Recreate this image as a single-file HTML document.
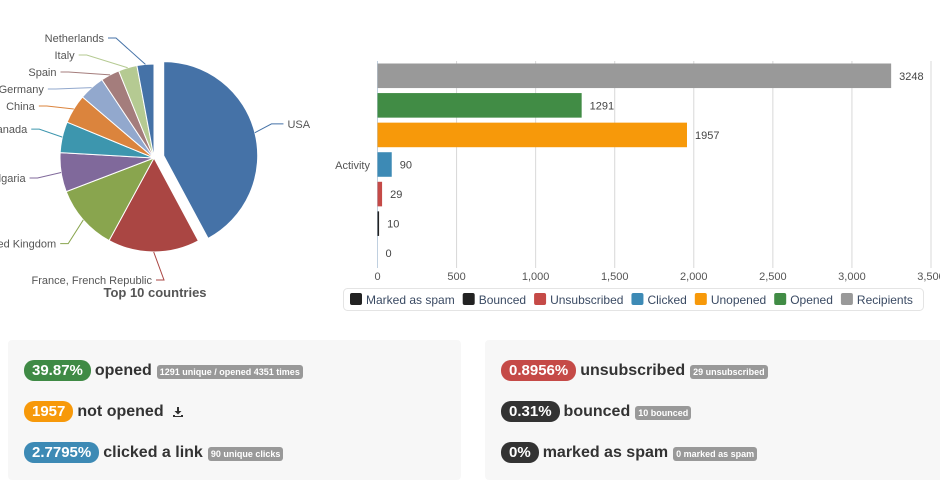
<!DOCTYPE html>
<html><head><meta charset="utf-8"><style>
body{margin:0;width:940px;height:487px;overflow:hidden;background:#fff;font-family:"Liberation Sans",sans-serif;position:relative}
svg text{font-family:"Liberation Sans",sans-serif}
.card{position:absolute;top:340px;height:140px;background:#f7f7f7;border-radius:4px}
.row{position:absolute;left:16px;display:flex;align-items:center;font-weight:bold;font-size:16px;color:#333;white-space:nowrap}
.pill{color:#fff;border-radius:10px;padding:2px 8px;font-size:15px;margin-right:4px;line-height:17px}
.tag{background:#999;color:#fff;font-size:9px;border-radius:3px;padding:2px 3px;margin-left:5px;margin-top:3px}
</style></head><body>
<svg id="pie" width="330" height="300" style="position:absolute;left:0;top:0"></svg>
<svg id="bar" width="610" height="320" style="position:absolute;left:330px;top:0"></svg>

<div class="card" style="left:8px;width:453px">
 <div class="row" style="top:20px"><span class="pill" style="background:#3f8a45">39.87%</span>opened<span class="tag">1291 unique / opened 4351 times</span></div>
 <div class="row" style="top:61px"><span class="pill" style="background:#f7990a">1957</span>not opened <svg width="12" height="12" style="margin-left:8px" viewBox="0 0 12 12"><path d="M5 1h2v4h2.5L6 8.5 2.5 5H5z M1 9h2v1h6V9h2v2H1z" fill="#333"/></svg></div>
 <div class="row" style="top:102px"><span class="pill" style="background:#3d8ab5">2.7795%</span>clicked a link<span class="tag">90 unique clicks</span></div>
</div>
<div class="card" style="left:485px;width:460px">
 <div class="row" style="top:20px"><span class="pill" style="background:#c54a47">0.8956%</span>unsubscribed<span class="tag">29 unsubscribed</span></div>
 <div class="row" style="top:61px"><span class="pill" style="background:#333">0.31%</span>bounced<span class="tag">10 bounced</span></div>
 <div class="row" style="top:102px"><span class="pill" style="background:#333">0%</span>marked as spam<span class="tag">0 marked as spam</span></div>
</div>
<script>
const NS="http://www.w3.org/2000/svg";
function mk(p,t,a){const e=document.createElementNS(NS,t);for(const k in a)e.setAttribute(k,a[k]);p.appendChild(e);return e;}
// ---- pie data
const countries=["USA","France, French Republic","United Kingdom","Bulgaria","Canada","China","Germany","Spain","Italy","Netherlands"];
const countryValues=[420,157,112,67,53,50,44,32,32,29];
const pieColors=["#4572a7","#aa4643","#89a54e","#80699b","#3d96ae","#db843d","#92a8cd","#a47d7c","#b5ca92","#4572a7"];
const pie=document.getElementById('pie');
const cx=154,cy=158,R=94,LR=130,TOPY=38,BOTY=280;
const tot=countryValues.reduce((a,b)=>a+b,0);
let a0=0;const labs=[];
countryValues.forEach((v,i)=>{
 const sw=v/tot*2*Math.PI,a1=a0+sw,mid=a0+sw/2;
 const off=i===0?10:0,ox=cx+off*Math.sin(mid),oy=cy-off*Math.cos(mid);
 const p=(a,r)=>[ox+r*Math.sin(a),oy-r*Math.cos(a)];
 const s=p(a0,R),e=p(a1,R);
 const sl=mk(pie,'path',{d:`M${ox},${oy}L${s[0]},${s[1]}A${R},${R} 0 ${sw>Math.PI?1:0} 1 ${e[0]},${e[1]}Z`,fill:pieColors[i],stroke:'#fff','stroke-width':1});
 
 
 labs.push({i,mid,ox,oy,right:Math.sin(mid)>0.05,y:Math.min(BOTY,Math.max(TOPY,oy-LR*Math.cos(mid)))});
 a0=a1;
});
// spread left labels (ordered top to bottom by angle)
const left=labs.filter(l=>!l.right).sort((a,b)=>b.mid-a.mid);
for(let k=1;k<left.length;k++){if(left[k].y<left[k-1].y+17)left[k].y=left[k-1].y+17;}
for(let k=left.length-2;k>=0;k--){if(left[k].y>left[k+1].y-17)left[k].y=left[k+1].y-17;}
labs.forEach(l=>{
 const i=l.i,dy=l.y-cy;
 const dx=Math.sqrt(Math.max(LR*LR-dy*dy,0));
 let lx=l.right?cx+dx+8:cx-dx;
 if(!l.right&&dy>100)lx=cx-2;
 const c1=[l.ox+R*Math.sin(l.mid),l.oy-R*Math.cos(l.mid)];
 const ex=l.right?lx-4:lx+4;
 const bx=l.right?ex-12:ex+8;
 const ln=mk(pie,'path',{d:`M${c1[0]},${c1[1]}L${bx},${l.y}L${ex},${l.y}`,fill:'none',stroke:pieColors[i],'stroke-width':1});
 
 
 const t=mk(pie,'text',{x:lx,y:l.y+4,'font-size':11,fill:'#555','text-anchor':l.right?'start':'end'});
 t.textContent=countries[i];
 
 
});
const pt=mk(pie,'text',{x:155,y:297,'font-size':13,'font-weight':'bold',fill:'#555','text-anchor':'middle'});
pt.textContent="Top 10 countries";


// ---- bar data
const barCats=["Recipients","Opened","Unopened","Clicked","Unsubscribed","Bounced","Marked as spam"];
const barValues=[3248,1291,1957,90,29,10,0];
const barColors=["#999999","#418c45","#f7990a","#3d8ab5","#c54a47","#222222","#222222"];
const xTicks=[0,500,1000,1500,2000,2500,3000,3500];
const xTickLabels=["0","500","1,000","1,500","2,000","2,500","3,000","3,500"];
const bar=document.getElementById('bar');
const X0=47.5,X1=601,T=61,B=268,xmax=3500;
const xs=v=>X0+v/xmax*(X1-X0);
const band=(B-T)/barCats.length;
xTicks.forEach((v,i)=>{
 const g=mk(bar,'line',{x1:xs(v),x2:xs(v),y1:T,y2:B,stroke:'#d8d8d8'});
 
 
 const t=mk(bar,'text',{x:xs(v),y:280,'font-size':11,fill:'#555','text-anchor':'middle'});
 t.textContent=xTickLabels[i];
 
 
});
const al=mk(bar,'line',{x1:X0,x2:X0,y1:T,y2:B,stroke:'#c0d0e0'});


barValues.forEach((v,i)=>{
 const y=T+i*band+2.5,h=band-5;
 const r=mk(bar,'rect',{x:X0,y:y,width:Math.max(0,xs(v)-X0),height:h,fill:barColors[i]});
 
 
 const t=mk(bar,'text',{x:xs(v)+8,y:y+h/2+4,'font-size':11,fill:'#444'});
 t.textContent=v;
 
 
});
const yl=mk(bar,'text',{x:40,y:169,'font-size':11,fill:'#555','text-anchor':'end'});
yl.textContent="Activity";


const lb=mk(bar,'rect',{x:13.5,y:288.5,width:580,height:22,rx:4,fill:'#fff',stroke:'#e4e4e4'});


let lx=20;
for(let i=barCats.length-1;i>=0;i--){
 const sq=mk(bar,'rect',{x:lx,y:293,width:12,height:12,rx:2,fill:barColors[i]});
 
 
 const t=mk(bar,'text',{x:lx+16,y:304,'font-size':12,fill:'#3a4a63'});
 t.textContent=barCats[i];
 
 
 lx+=16+t.getComputedTextLength()+8;
}
</script>
</body></html>
